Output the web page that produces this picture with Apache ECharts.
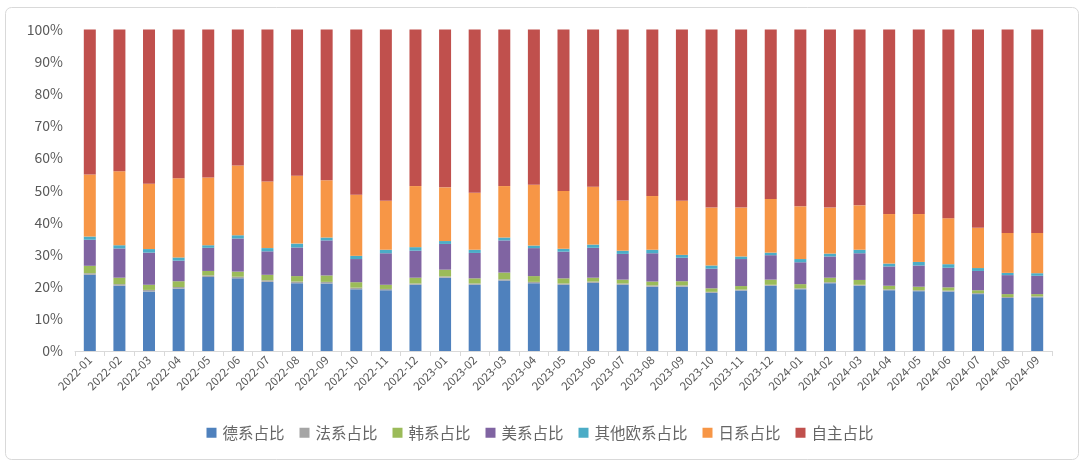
<!DOCTYPE html>
<html>
<head>
<meta charset="utf-8">
<script src="https://cdn.jsdelivr.net/npm/echarts@6/dist/echarts.min.js"></script>
<style>
html,body{margin:0;padding:0;background:#fff;}
#chart{width:1080px;height:463px;}
</style>
</head>
<body>
<div id="chart"></div>
<script>
const categories = ['2022-01','2022-02','2022-03','2022-04','2022-05','2022-06','2022-07','2022-08','2022-09','2022-10','2022-11','2022-12',
'2023-01','2023-02','2023-03','2023-04','2023-05','2023-06','2023-07','2023-08','2023-09','2023-10','2023-11','2023-12',
'2024-01','2024-02','2024-03','2024-04','2024-05','2024-06','2024-07','2024-08','2024-09'];

const german = [23.7,20.3,18.5,19.4,23.0,22.6,21.5,21.1,21.0,19.2,18.9,20.6,22.8,20.6,21.9,21.1,20.6,21.2,20.6,20.0,20.0,18.1,18.8,20.3,19.2,21.1,20.3,18.9,18.6,18.5,17.7,16.5,16.7];
const french = [0.5,0.5,0.5,0.5,0.5,0.5,0.5,0.5,0.5,0.5,0.4,0.4,0.4,0.4,0.4,0.4,0.4,0.4,0.4,0.4,0.4,0.3,0.3,0.3,0.3,0.3,0.3,0.3,0.3,0.3,0.3,0.3,0.3];
const korean = [2.3,2.0,1.6,1.8,1.4,1.6,1.7,1.7,2.0,1.7,1.3,1.8,2.1,1.6,2.1,1.8,1.6,1.2,1.2,1.2,1.3,1.1,1.1,1.6,1.3,1.4,1.5,1.1,1.1,1.0,0.9,0.9,0.7];
const american = [8.1,9.1,10.0,6.4,7.2,10.3,7.3,8.9,10.9,7.2,9.8,8.4,8.0,7.9,10.0,8.7,8.3,9.3,8.0,8.8,7.3,6.1,8.4,7.6,6.8,6.6,8.3,6.0,6.6,6.1,6.0,5.9,5.7];
const otherEuro = [1.0,1.0,1.1,1.0,0.8,1.0,1.0,1.2,0.9,1.0,1.1,1.1,0.9,1.0,0.9,0.8,0.9,1.0,1.0,1.1,0.9,1.0,0.8,0.8,1.0,0.9,1.1,0.9,1.1,1.1,0.9,0.7,0.8];
const japanese = [19.3,23.0,20.3,24.6,21.1,21.7,20.7,21.1,17.8,19.0,15.2,19.0,16.7,17.7,16.0,18.9,18.0,18.0,15.6,16.7,16.8,18.0,15.2,16.7,16.4,14.3,13.8,15.4,14.9,14.3,12.5,12.4,12.5];
const domestic = [45.1,44.1,48.0,46.3,46.0,42.3,47.3,45.5,46.9,51.4,53.3,48.7,49.1,50.8,48.7,48.3,50.2,48.9,53.2,51.8,53.3,55.4,55.4,52.7,55.0,55.4,54.7,57.4,57.4,58.7,61.7,63.3,63.3];

const yTickLabels = ['0%','10%','20%','30%','40%','50%','60%','70%','80%','90%','100%'];

const seriesDefs = [
  {name:'德系占比', data:german, color:'#4F81BD'},
  {name:'法系占比', data:french, color:'#A5A5A5'},
  {name:'韩系占比', data:korean, color:'#9BBB59'},
  {name:'美系占比', data:american, color:'#8064A2'},
  {name:'其他欧系占比', data:otherEuro, color:'#4BACC6'},
  {name:'日系占比', data:japanese, color:'#F79646'},
  {name:'自主占比', data:domestic, color:'#C0504D'}
];

// normalize to 100% stacked
const totals = categories.map((c,i)=>seriesDefs.reduce((s,d)=>s+d.data[i],0));

const chart = echarts.init(document.getElementById('chart'), null, {renderer:'canvas'});
const font = '"Noto Sans CJK SC", "Microsoft YaHei", sans-serif';
chart.setOption({
  backgroundColor:'#ffffff',
  animation:false,
  textStyle:{fontFamily:font},
  graphic:[{
    type:'rect', left:3, top:5, silent:true,
    shape:{width:1073, height:452, r:6},
    style:{fill:'none', stroke:'#d9d9d9', lineWidth:1}
  }],
  grid:{left:75, right:28, top:29.5, bottom:112, containLabel:false},
  legend:{
    data:seriesDefs.map(d=>d.name),
    top:420, left:'center',
    icon:'rect', itemWidth:10, itemHeight:10, itemGap:15,
    textStyle:{fontSize:15.5, color:'#666666', fontFamily:font, padding:[0,0,0,1]}
  },
  xAxis:{
    type:'category', data:categories,
    axisLine:{lineStyle:{color:'#d9d9d9'}},
    axisTick:{show:true, length:5, alignWithLabel:false, lineStyle:{color:'#d9d9d9'}},
    axisLabel:{rotate:45, fontSize:11.5, color:'#595959', margin:7, interval:0, fontFamily:font}
  },
  yAxis:{
    type:'value', min:0, max:100, interval:10,
    splitLine:{show:false},
    axisLine:{show:false}, axisTick:{show:false},
    axisLabel:{fontSize:14, color:'#595959', margin:12, fontFamily:font,
      formatter:(v)=>yTickLabels[Math.round(v/10)]}
  },
  series:seriesDefs.map(d=>({
    name:d.name, type:'bar', stack:'total', barWidth:12,
    itemStyle:{color:d.color},
    data:d.data.map((v,i)=>v/totals[i]*100)
  }))
});
</script>
</body>
</html>
